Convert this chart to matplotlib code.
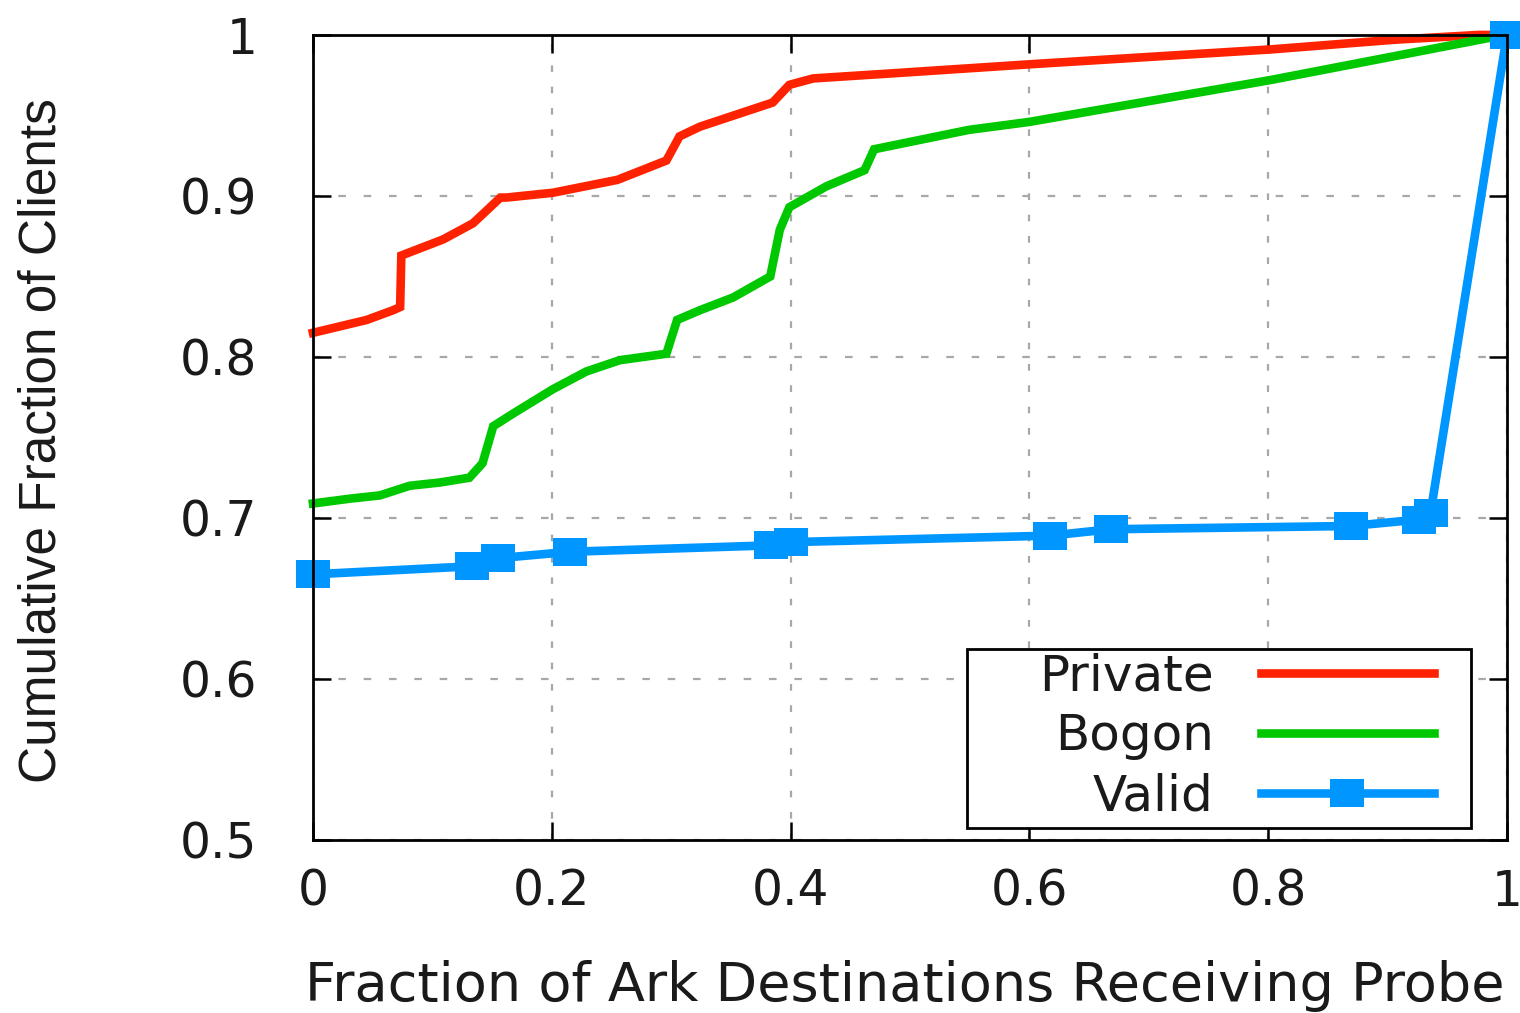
import matplotlib
matplotlib.use("Agg")
import matplotlib.pyplot as plt
from matplotlib.patches import Rectangle
from matplotlib import font_manager

# ---------------- data ----------------
private_x = [0.000, 0.045, 0.067, 0.073, 0.074, 0.081, 0.109, 0.134, 0.157, 0.162,
             0.201, 0.255, 0.296, 0.307, 0.324, 0.385, 0.399, 0.419, 0.482, 0.605,
             0.802, 0.905, 0.976, 1.000]
private_y = [0.815, 0.823, 0.829, 0.831, 0.863, 0.865, 0.873, 0.883, 0.899, 0.899,
             0.902, 0.910, 0.922, 0.937, 0.943, 0.958, 0.969, 0.973, 0.976, 0.982,
             0.991, 0.997, 1.000, 1.000]

bogon_x = [0.000, 0.031, 0.056, 0.081, 0.106, 0.131, 0.142, 0.151, 0.168, 0.201,
           0.229, 0.257, 0.296, 0.305, 0.324, 0.352, 0.383, 0.391, 0.399, 0.430,
           0.462, 0.470, 0.549, 0.600, 0.802, 0.984, 1.000]
bogon_y = [0.709, 0.712, 0.714, 0.720, 0.722, 0.725, 0.734, 0.757, 0.765, 0.780,
           0.791, 0.798, 0.802, 0.823, 0.829, 0.837, 0.850, 0.879, 0.893, 0.906,
           0.916, 0.929, 0.941, 0.946, 0.972, 0.998, 1.000]

valid_x = [0.000, 0.133, 0.155, 0.215, 0.384, 0.400, 0.617, 0.668, 0.869, 0.926, 0.936, 1.000]
valid_y = [0.665, 0.670, 0.675, 0.679, 0.683, 0.685, 0.689, 0.693, 0.695, 0.699, 0.703, 1.000]

series_labels = ["Private", "Bogon", "Valid"]
x_ticks = [0, 0.2, 0.4, 0.6, 0.8, 1.0]
x_tick_labels = ["0", "0.2", "0.4", "0.6", "0.8", "1"]
y_ticks = [0.5, 0.6, 0.7, 0.8, 0.9, 1.0]
y_tick_labels = ["0.5", "0.6", "0.7", "0.8", "0.9", "1"]

# ---------------- style ----------------
RED = "#ff2200"
GREEN = "#00c800"
BLUE = "#0096ff"

plt.rcParams["font.family"] = ["DejaVu Sans"]

fig = plt.figure(figsize=(15.2, 10.13), dpi=100)
ax = fig.add_axes([0.2059, 0.1708, 0.7855, 0.7947])
ax.set_axisbelow(True)

lw = 6.2
ax.plot(private_x, private_y, color=RED, lw=lw, label=series_labels[0],
        clip_on=False, solid_joinstyle="miter", zorder=2)
ax.plot(bogon_x, bogon_y, color=GREEN, lw=lw, label=series_labels[1],
        clip_on=False, solid_joinstyle="miter", zorder=2)
rect_marker = [(-0.5, -0.41), (0.5, -0.41), (0.5, 0.41), (-0.5, 0.41), (-0.5, -0.41)]
ax.plot(valid_x, valid_y, color=BLUE, lw=lw, marker=rect_marker, markersize=24,
        markeredgewidth=0, label=series_labels[2], clip_on=False, zorder=2.2)

ax.set_xlim(0, 1)
ax.set_ylim(0.5, 1)
ax.set_xticks(x_ticks)
ax.set_xticklabels(x_tick_labels)
ax.set_yticks(y_ticks)
ax.set_yticklabels(y_tick_labels)

ax.tick_params(axis="both", direction="in", length=13, width=1.8, color="black",
               top=True, right=True, labelsize=35, labelcolor="#1a1a1a")
ax.tick_params(axis="x", pad=20)
ax.tick_params(axis="y", pad=40)

for sp in ax.spines.values():
    sp.set_linewidth(2.0)
    sp.set_color("black")

ax.xaxis.grid(True, color="#a8a8a8", lw=1.6, linestyle=(0, (3.0, 6.6)))
ax.yaxis.grid(True, color="#a8a8a8", lw=1.6, linestyle=(0, (3.4, 8.0)))

# axis labels
ax.set_xlabel("Fraction of Ark Destinations Receiving Probe", fontsize=39,
              color="#1a1a1a", va="center")
ax.xaxis.set_label_coords(0.496, -0.182)

try:
    font_manager.findfont("Liberation Sans Narrow", fallback_to_default=False)
    yfam, ysize = ["Liberation Sans Narrow"], 45
except Exception:
    yfam, ysize = ["Liberation Sans"], 37
ax.set_ylabel("Cumulative Fraction of Clients", fontsize=ysize, family=yfam,
              color="#1a1a1a", va="center")
ax.yaxis.set_label_coords(-0.227, 0.4957)

# legend box (white, covers grid) and legend entries
box = Rectangle((0.5477, 0.0149), 0.4221, 0.2224, transform=ax.transAxes,
                facecolor="white", edgecolor="black", lw=2.0, zorder=1)
ax.add_patch(box)
leg = ax.legend(loc="center", bbox_to_anchor=(0.7735, 0.129), frameon=False,
                markerfirst=False, fontsize=36, handlelength=3.46,
                handletextpad=0.94, labelspacing=0.24, borderpad=0,
                borderaxespad=0, numpoints=1)
leg.set_zorder(5)
for t in leg.get_texts():
    t.set_color("#1a1a1a")

fig.savefig("out.png", dpi=100, facecolor="white")
